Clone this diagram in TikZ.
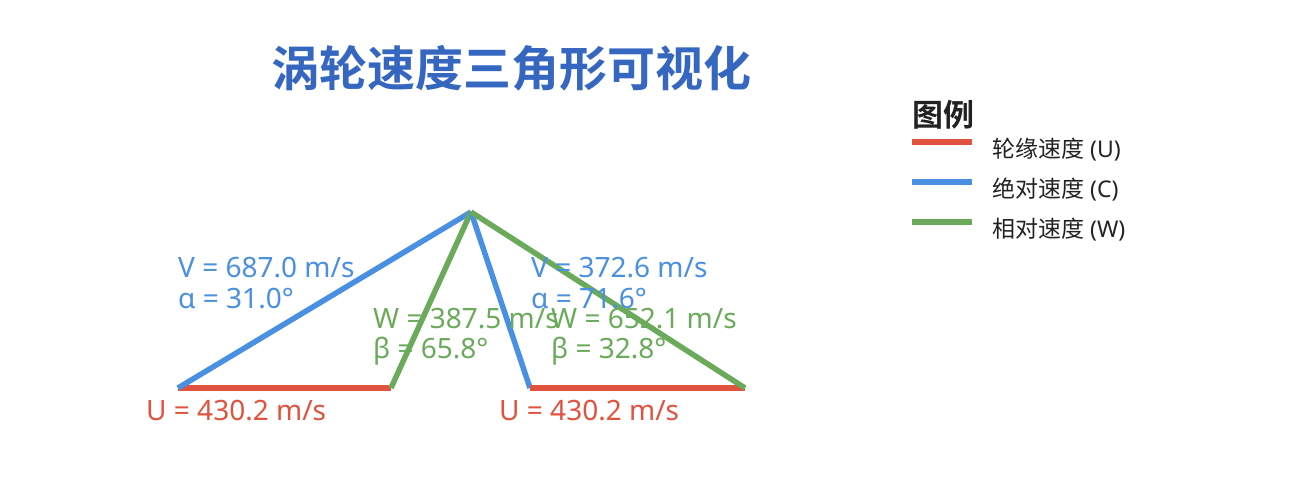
\documentclass[tikz,border=0pt]{standalone}
\usepackage{fontspec}
\setmainfont{Noto Sans}
\newfontfamily\cjk{Noto Sans CJK SC}
\newfontfamily\cjkb{Noto Sans CJK SC Bold}
\newfontfamily\latin{Noto Sans}
\definecolor{ured}{HTML}{E0533F}
\definecolor{cblue}{HTML}{4A90E2}
\definecolor{wgreen}{HTML}{6AAA5A}
\definecolor{ttl}{HTML}{3567C0}
\definecolor{txt}{HTML}{222222}
\begin{document}
\begin{tikzpicture}[x=1pt,y=-1pt,
  vec/.style={line width=5.5pt},
  lab/.style={anchor=base west,inner sep=0pt,font=\fontsize{28}{30}\selectfont},
  legline/.style={line width=6pt},
  legtext/.style={anchor=west,inner sep=0pt,text=txt,font=\cjk\fontsize{23}{26}\selectfont}]
\useasboundingbox[fill=white] (0,0) rectangle (1304,492);
% title
\node[font=\cjkb\fontsize{48}{52}\selectfont,text=ttl] (title) at (511,68) {涡轮速度三角形可视化};
% coordinates
\coordinate (A) at (178,388);
\coordinate (B) at (391,388);
\coordinate (P) at (471,212);
\coordinate (C) at (530,388);
\coordinate (D) at (745,388);
% left triangle
\draw[vec,ured] (A) -- (B);
\draw[vec,cblue] (A) -- (P);
\draw[vec,wgreen] (B) -- (P);
% right triangle
\draw[vec,cblue] (P) -- (C);
\draw[vec,ured] (C) -- (D);
\draw[vec,wgreen] (P) -- (D);
% labels
\node[lab,text=cblue] (v1) at (178,277) {V = 687.0 m/s};
\node[lab,text=cblue] (a1) at (178,308) {α = 31.0°};
\node[lab,text=wgreen] (w1) at (373,328) {W = 387.5 m/s};
\node[lab,text=wgreen] (b1) at (373,358) {β = 65.8°};
\node[lab,text=cblue] (v2) at (531,277) {V = 372.6 m/s};
\node[lab,text=cblue] (a2) at (531,308) {α = 71.6°};
\node[lab,text=wgreen] (w2) at (551,328) {W = 652.1 m/s};
\node[lab,text=wgreen] (b2) at (551,358) {β = 32.8°};
\node[lab,text=ured] (u1) at (146,420) {U = 430.2 m/s};
\node[lab,text=ured] (u2) at (499,420) {U = 430.2 m/s};
% legend
\node[anchor=west,inner sep=0pt,text=txt,font=\cjkb\fontsize{31}{34}\selectfont] (legt) at (912,115) {图例};
\coordinate (l1a) at (912,142); \coordinate (l1b) at (972,142);
\coordinate (l2a) at (912,182); \coordinate (l2b) at (972,182);
\coordinate (l3a) at (912,222); \coordinate (l3b) at (972,222);
\draw[legline,ured] (l1a) -- (l1b);
\draw[legline,cblue] (l2a) -- (l2b);
\draw[legline,wgreen] (l3a) -- (l3b);
\node[legtext] (t1) at (992,150) {轮缘速度{\latin\ (U)}};
\node[legtext] (t2) at (992,190) {绝对速度{\latin\ (C)}};
\node[legtext] (t3) at (992,230) {相对速度{\latin\ (W)}};
\end{tikzpicture}
\end{document}
